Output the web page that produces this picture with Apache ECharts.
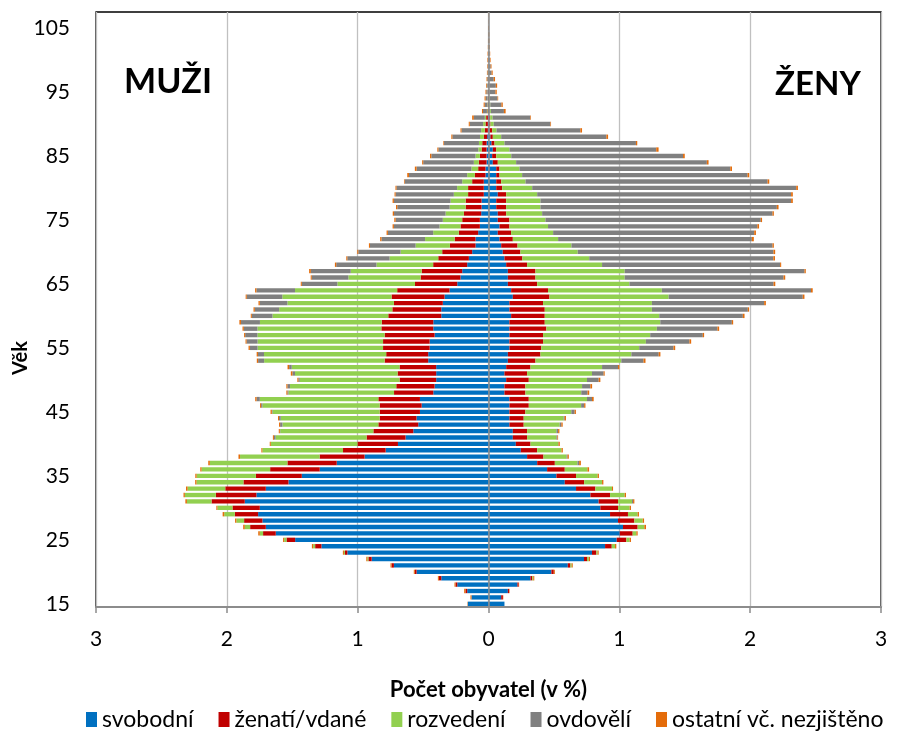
<!DOCTYPE html>
<html>
<head>
<meta charset="utf-8">
<title>Věková pyramida podle rodinného stavu</title>
<script src="https://cdn.jsdelivr.net/npm/echarts@6/dist/echarts.min.js"></script>
<style>
  html, body { margin: 0; padding: 0; background: #fff; }
  #chart { width: 901px; height: 731px; }
</style>
</head>
<body>
<div id="chart"></div>
<script>
// vek 15 .. 107 (kategorie osy y)
let ages = [];
for (let a = 15; a <= 107; a++) ages.push(String(a));

let legendNames = ["svobodní", "ženatí/vdané", "rozvedení", "ovdovělí", "ostatní vč. nezjištěno"];
let colors = ["#0070C0", "#C00000", "#92D050", "#808080", "#E46C0A"];

// muzi (v %), po 10 letech na radek
let menSingle = [
  0.158, 0.13, 0.163, 0.239, 0.361, 0.55, 0.723, 0.893, 1.079, 1.277,
  1.478, 1.626, 1.702, 1.728, 1.761, 1.748, 1.863, 1.774, 1.702, 1.529,
  1.427, 1.29, 1.16, 0.947, 0.786, 0.692, 0.634, 0.575, 0.537, 0.55,
  0.524, 0.511, 0.524, 0.422, 0.412, 0.4, 0.4, 0.4, 0.461, 0.461,
  0.45, 0.45, 0.412, 0.422, 0.422, 0.361, 0.361, 0.349, 0.336, 0.298,
  0.239, 0.214, 0.201, 0.163, 0.15, 0.125, 0.099, 0.099, 0.079, 0.066,
  0.066, 0.056, 0.053, 0.053, 0.036, 0.036, 0.036, 0.023, 0.023, 0.015,
  0.015, 0.015, 0.015, 0.01, 0.005, 0.005, 0.005, 0.003, 0.002, 0.002,
  0.002, 0.002, 0.001, 0.001, 0.001, 0.001, 0.001, 0, 0, 0,
  0, 0, 0
];
let menMarried = [
  0, 0, 0.013, 0.013, 0.018, 0.013, 0.018, 0.025, 0.018, 0.048,
  0.066, 0.097, 0.12, 0.14, 0.178, 0.209, 0.254, 0.31, 0.31, 0.344,
  0.351, 0.379, 0.377, 0.344, 0.326, 0.31, 0.298, 0.305, 0.305, 0.282,
  0.308, 0.321, 0.318, 0.3, 0.293, 0.28, 0.295, 0.28, 0.333, 0.321,
  0.356, 0.356, 0.382, 0.397, 0.394, 0.405, 0.374, 0.374, 0.405, 0.4,
  0.323, 0.305, 0.31, 0.26, 0.234, 0.229, 0.196, 0.16, 0.148, 0.148,
  0.135, 0.132, 0.122, 0.122, 0.12, 0.12, 0.089, 0.081, 0.056, 0.059,
  0.051, 0.038, 0.033, 0.025, 0.023, 0.018, 0.013, 0.005, 0.004, 0.003,
  0.003, 0.002, 0.002, 0.001, 0.001, 0.001, 0, 0, 0, 0,
  0, 0, 0
];
let menDivorced = [
  0, 0, 0, 0, 0, 0, 0, 0.008, 0.008, 0.015,
  0.018, 0.025, 0.041, 0.059, 0.081, 0.115, 0.188, 0.237, 0.288, 0.359,
  0.453, 0.524, 0.593, 0.608, 0.616, 0.662, 0.695, 0.712, 0.733, 0.756,
  0.819, 0.896, 0.906, 0.807, 0.812, 0.763, 0.784, 0.824, 0.921, 0.934,
  0.959, 0.959, 0.972, 0.947, 0.931, 0.885, 0.865, 0.814, 0.835, 0.781,
  0.593, 0.552, 0.542, 0.433, 0.372, 0.318, 0.262, 0.226, 0.196, 0.16,
  0.148, 0.14, 0.122, 0.115, 0.109, 0.084, 0.076, 0.059, 0.051, 0.038,
  0.033, 0.025, 0.025, 0.03, 0.028, 0.018, 0.01, 0.004, 0.003, 0.002,
  0.002, 0.002, 0.001, 0.001, 0, 0, 0, 0, 0, 0,
  0, 0, 0
];
let menWidowed = [
  0, 0, 0, 0, 0, 0, 0, 0, 0, 0,
  0, 0, 0, 0, 0, 0, 0, 0, 0, 0,
  0, 0, 0, 0, 0, 0, 0.013, 0.003, 0.018, 0.013,
  0.005, 0.01, 0.025, 0.008, 0.02, 0.01, 0.02, 0.02, 0.046, 0.046,
  0.059, 0.084, 0.094, 0.104, 0.145, 0.158, 0.186, 0.211, 0.272, 0.295,
  0.272, 0.28, 0.305, 0.308, 0.323, 0.323, 0.349, 0.333, 0.346, 0.349,
  0.361, 0.394, 0.4, 0.433, 0.445, 0.463, 0.44, 0.445, 0.42, 0.387,
  0.338, 0.305, 0.267, 0.211, 0.15, 0.102, 0.084, 0.03, 0.02, 0.015,
  0.01, 0.008, 0.006, 0.005, 0.004, 0.003, 0.002, 0.002, 0.001, 0.001,
  0.001, 0, 0
];
let menOther = [
  0.003, 0.008, 0.01, 0.008, 0.008, 0.008, 0.008, 0.008, 0.008, 0.01,
  0.008, 0.012, 0.012, 0.01, 0.012, 0.008, 0.012, 0.01, 0.012, 0.01,
  0.01, 0.01, 0.012, 0.012, 0.008, 0.008, 0.008, 0.008, 0.008, 0.008,
  0.01, 0.008, 0.01, 0.008, 0.008, 0.008, 0.012, 0.012, 0.01, 0.01,
  0.01, 0.008, 0.008, 0.01, 0.012, 0.008, 0.01, 0.01, 0.008, 0.01,
  0.008, 0.008, 0.013, 0.01, 0.008, 0.008, 0.008, 0.01, 0.01, 0.01,
  0.01, 0.01, 0.01, 0.01, 0.008, 0.008, 0.005, 0.013, 0.013, 0.008,
  0.01, 0.008, 0.005, 0.008, 0.008, 0.008, 0.013, 0.008, 0.008, 0.008,
  0.006, 0.005, 0.005, 0.004, 0.004, 0.004, 0.004, 0.003, 0.003, 0.002,
  0.002, 0.001, 0.001
];

// zeny (v %)
let womenSingle = [
  0.122, 0.097, 0.148, 0.221, 0.321, 0.481, 0.606, 0.73, 0.791, 0.891,
  0.98, 1.003, 1.028, 0.99, 0.929, 0.855, 0.842, 0.779, 0.669, 0.583,
  0.519, 0.448, 0.372, 0.295, 0.247, 0.209, 0.186, 0.186, 0.16, 0.16,
  0.16, 0.16, 0.16, 0.122, 0.122, 0.135, 0.122, 0.135, 0.148, 0.148,
  0.16, 0.16, 0.16, 0.16, 0.16, 0.173, 0.16, 0.16, 0.186, 0.173,
  0.148, 0.148, 0.148, 0.135, 0.122, 0.109, 0.097, 0.084, 0.071, 0.084,
  0.071, 0.071, 0.059, 0.059, 0.071, 0.059, 0.059, 0.059, 0.059, 0.033,
  0.028, 0.033, 0.023, 0.015, 0.008, 0.005, 0.005, 0.003, 0.003, 0.002,
  0.002, 0.002, 0.002, 0.001, 0.001, 0.001, 0.001, 0.001, 0, 0,
  0, 0, 0
];
let womenMarried = [
  0, 0.013, 0.01, 0.01, 0.013, 0.018, 0.02, 0.023, 0.033, 0.051,
  0.074, 0.099, 0.112, 0.125, 0.137, 0.135, 0.148, 0.15, 0.148, 0.148,
  0.15, 0.135, 0.135, 0.125, 0.125, 0.112, 0.109, 0.109, 0.109, 0.109,
  0.122, 0.148, 0.148, 0.16, 0.16, 0.173, 0.173, 0.186, 0.211, 0.249,
  0.244, 0.257, 0.257, 0.282, 0.27, 0.257, 0.27, 0.257, 0.28, 0.282,
  0.224, 0.211, 0.211, 0.16, 0.137, 0.135, 0.125, 0.102, 0.102, 0.076,
  0.089, 0.064, 0.076, 0.076, 0.064, 0.046, 0.038, 0.025, 0.025, 0.038,
  0.031, 0.025, 0.023, 0.018, 0.02, 0.01, 0.008, 0.005, 0.003, 0.002,
  0.002, 0.001, 0.001, 0.001, 0, 0, 0, 0, 0, 0,
  0, 0, 0
];
let womenDivorced = [
  0, 0, 0, 0, 0.008, 0, 0.01, 0.013, 0.01, 0.025,
  0.025, 0.028, 0.051, 0.064, 0.074, 0.089, 0.107, 0.112, 0.127, 0.137,
  0.165, 0.173, 0.173, 0.176, 0.186, 0.211, 0.224, 0.224, 0.275, 0.305,
  0.351, 0.4, 0.445, 0.427, 0.433, 0.445, 0.496, 0.547, 0.656, 0.695,
  0.748, 0.786, 0.819, 0.845, 0.883, 0.875, 0.819, 0.832, 0.911, 0.87,
  0.705, 0.682, 0.682, 0.573, 0.511, 0.438, 0.412, 0.346, 0.321, 0.295,
  0.275, 0.275, 0.262, 0.262, 0.237, 0.229, 0.186, 0.173, 0.153, 0.14,
  0.115, 0.102, 0.076, 0.064, 0.033, 0.025, 0.018, 0.01, 0.008, 0.005,
  0.004, 0.003, 0.002, 0.002, 0.001, 0, 0, 0, 0, 0,
  0, 0, 0
];
let womenWidowed = [
  0, 0, 0, 0, 0, 0, 0, 0, 0, 0,
  0, 0, 0, 0, 0, 0, 0.008, 0, 0, 0,
  0, 0, 0.013, 0.008, 0, 0.003, 0.008, 0.013, 0.013, 0.008,
  0.025, 0.023, 0.038, 0.048, 0.064, 0.089, 0.089, 0.122, 0.17, 0.209,
  0.262, 0.333, 0.402, 0.463, 0.547, 0.639, 0.733, 0.858, 1.025, 1.14,
  1.102, 1.214, 1.374, 1.361, 1.407, 1.496, 1.537, 1.481, 1.537, 1.6,
  1.646, 1.761, 1.807, 1.916, 1.941, 2.018, 1.85, 1.723, 1.611, 1.458,
  1.313, 1.122, 1.005, 0.804, 0.641, 0.433, 0.288, 0.1, 0.085, 0.06,
  0.045, 0.05, 0.035, 0.02, 0.015, 0.01, 0.008, 0.005, 0.004, 0.003,
  0.002, 0.001, 0
];
let womenOther = [
  0, 0.003, 0.003, 0.003, 0.008, 0.008, 0.008, 0.01, 0.008, 0.01,
  0.01, 0.01, 0.013, 0.01, 0.01, 0.01, 0.01, 0.01, 0.008, 0.01,
  0.01, 0.013, 0.013, 0.01, 0.01, 0.01, 0.005, 0.01, 0.01, 0.01,
  0.01, 0.01, 0.013, 0.013, 0.013, 0.013, 0.008, 0.01, 0.015, 0.013,
  0.013, 0.013, 0.01, 0.013, 0.01, 0.013, 0.01, 0.013, 0.013, 0.013,
  0.013, 0.013, 0.01, 0.008, 0.013, 0.013, 0.01, 0.015, 0.013, 0.013,
  0.01, 0.01, 0.013, 0.013, 0.013, 0.013, 0.013, 0.013, 0.013, 0.013,
  0.013, 0.018, 0.01, 0.013, 0.013, 0.005, 0.005, 0.013, 0.01, 0.005,
  0.01, 0.01, 0.01, 0.008, 0.006, 0.005, 0.004, 0.004, 0.003, 0.003,
  0.002, 0.001, 0.001
];

let fontName = "Lato, 'Open Sans', sans-serif";
let menData = [menSingle, menMarried, menDivorced, menWidowed, menOther];
let womenData = [womenSingle, womenMarried, womenDivorced, womenWidowed, womenOther];

let series = [];
legendNames.forEach(function (name, i) {
  // muzi vlevo -> zaporne hodnoty
  series.push({
    name: name,
    type: "bar",
    stack: "muzi",
    barWidth: "68%",
    barGap: "-100%",
    itemStyle: { color: colors[i] },
    data: menData[i].map(function (v) { return -v; }),
  });
  series.push({
    name: name,
    type: "bar",
    stack: "zeny",
    barWidth: "68%",
    barGap: "-100%",
    itemStyle: { color: colors[i] },
    data: womenData[i],
  });
});
// stredova osa pres sloupce
series[0].markLine = {
  silent: true,
  symbol: "none",
  label: { show: false },
  lineStyle: { color: "#8c8c8c", width: 1.5, type: "solid" },
  data: [{ xAxis: 0 }],
};

let options = {
  animation: false,
  textStyle: { fontFamily: fontName },
  grid: {
    left: 96,
    right: 20,
    top: 12,
    bottom: 124,
    show: true,
    borderColor: "#000000",
    borderWidth: 1.3,
  },
  legend: {
    data: legendNames,
    left: 86,
    top: 708,
    width: 815,
    padding: 0,
    icon: "rect",
    itemWidth: 11,
    itemHeight: 15,
    itemGap: 25,
    textStyle: { fontFamily: fontName, fontSize: 23, color: "#000" },
  },
  xAxis: {
    type: "value",
    min: -3,
    max: 3,
    interval: 1,
    name: "Počet obyvatel (v %)",
    nameLocation: "middle",
    nameGap: 72,
    nameTextStyle: { fontFamily: fontName, fontSize: 22, fontWeight: "bold", color: "#000" },
    axisLine: { show: true, onZero: false, lineStyle: { color: "#8c8c8c", width: 2 } },
    axisTick: { show: true, length: 6, lineStyle: { color: "#8c8c8c", width: 1.5 } },
    axisLabel: {
      margin: 22,
      fontSize: 21,
      color: "#000",
      fontFamily: fontName,
      formatter: function (v) { return String(Math.abs(v)); },
    },
    splitLine: { show: true, lineStyle: { color: "#c0c0c0", width: 1.3 } },
  },
  yAxis: {
    type: "category",
    data: ages,
    axisLine: { show: false },
    axisTick: { show: false },
    axisLabel: { interval: 9, fontSize: 21, color: "#000", margin: 26, fontFamily: fontName },
    splitLine: { show: false },
  },
  graphic: [
    {
      type: "text",
      left: 124,
      top: 65,
      style: { text: "MUŽI", fontFamily: fontName, fontSize: 34, fontWeight: "bold", fill: "#000" },
    },
    {
      type: "text",
      left: 775,
      top: 68,
      style: { text: "ŽENY", fontFamily: fontName, fontSize: 33, fontWeight: "bold", fill: "#000" },
    },
    {
      type: "text",
      x: 11,
      y: 375,
      rotation: Math.PI / 2,
      style: { text: "Věk", fontFamily: fontName, fontSize: 20, fontWeight: "bold", fill: "#000" },
    },
  ],
  series: series,
};

let myChart = echarts.init(document.getElementById("chart"));
myChart.setOption(options);
</script>
</body>
</html>
